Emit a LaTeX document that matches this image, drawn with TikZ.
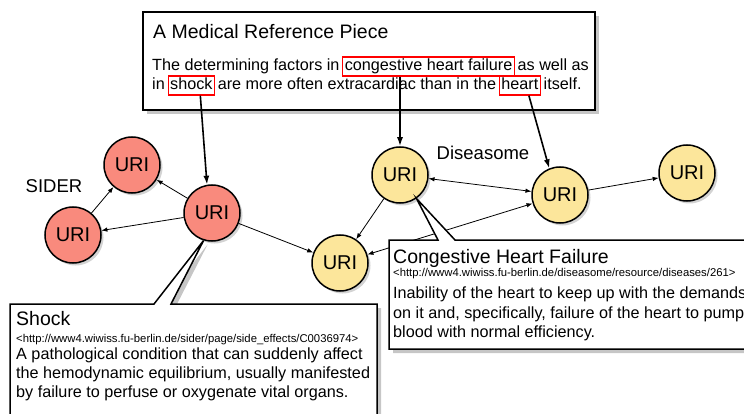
\documentclass[tikz,border=0pt]{standalone}
\usepackage{fontspec}
\setmainfont{Liberation Sans}
\usetikzlibrary{positioning,shadows,arrows.meta}

\definecolor{siderred}{HTML}{F98A7D}
\definecolor{disyellow}{HTML}{FCE69B}

\tikzset{
  uri/.style={circle, draw=black, line width=1.5pt, minimum size=56pt, inner sep=0pt,
    font=\fontsize{20}{20}\selectfont,
    drop shadow={shadow xshift=2.5pt, shadow yshift=-2.5pt, opacity=.35}},
  sider/.style={uri, fill=siderred},
  dis/.style={uri, fill=disyellow},
  edge/.style={-{Latex[length=6pt,width=4.5pt]}, line width=.8pt},
  biedge/.style={{Latex[length=6pt,width=4.5pt]}-{Latex[length=6pt,width=4.5pt]}, line width=.8pt},
  pointer/.style={-{Latex[length=9pt,width=6pt]}, line width=1.6pt},
  panel/.style={draw=black, fill=white, line width=1.5pt,
    drop shadow={shadow xshift=4pt, shadow yshift=-4pt, opacity=.45}},
  title/.style={anchor=base west, inner sep=0pt, font=\fontsize{19.5}{20}\selectfont},
  txt/.style={inner sep=0pt, font=\fontsize{16.2}{19}\selectfont},
  url/.style={anchor=base west, inner sep=0pt, font=\fontsize{11.3}{12}\selectfont},
  hl/.style={txt, draw=red, line width=1.3pt, inner xsep=2pt, inner ysep=2pt,
    text height=12pt, text depth=3pt},
  label/.style={inner sep=0pt, font=\fontsize{18.5}{19}\selectfont}
}

\begin{document}
\begin{tikzpicture}[x=1pt, y=-1pt]

    \useasboundingbox (0,0) rectangle (744,414);
    \clip (0,0) rectangle (744,414);

    % the nodes
    \node[sider] (r1) at (132,165) {URI};
    \node[sider] (r2) at (73,235) {URI};
    \node[sider] (r3) at (212,213) {URI};
    \node[dis] (y1) at (340,263) {URI};
    \node[dis] (y2) at (400,175) {URI};
    \node[dis] (y3) at (560,195) {URI};
    \node[dis] (y4) at (687,173) {URI};

    \node[label] (sider) at (54,186) {SIDER};
    \node[label] (diseasome) at (483,153) {Diseasome};

    \draw[edge] (r3) -- (r1);
    \draw[edge] (r3) -- (r2);
    \draw[edge] (r2) -- (r1);
    \draw[edge] (r3) -- (y1);
    \draw[edge] (y2) -- (y1);
    \draw[biedge] (y2) -- (y3);
    \draw[biedge] (y1) -- (y3);
    \draw[edge] (y3) -- (y4);

    % reference piece
    \draw[panel] (143,12) rectangle (595,110);
    \node[title] (reftitle) at (153,39) {A Medical Reference Piece};
    \node[txt, anchor=base west] (l1a) at (152,71) {The determining factors in};
    \node[hl, base right=2.5pt of l1a] (hlchf) {congestive heart failure};
    \node[txt, base right=2.5pt of hlchf] (l1b) {as well as};
    \node[txt, anchor=base west] (l2a) at (152,90) {in};
    \node[hl, base right=2.5pt of l2a] (hlshock) {shock};
    \node[txt, base right=2.5pt of hlshock] (l2b) {are more often extracardiac than in the};
    \node[hl, base right=2.5pt of l2b] (hlheart) {heart};
    \node[txt, base right=2.5pt of hlheart] (l2c) {itself.};

    \draw[pointer] ([xshift=9pt]hlshock.south) -- (r3.100);
    \draw[pointer] (hlchf.south -| y2.north) -- (y2.north);
    \draw[pointer] ([xshift=9pt]hlheart.south) -- (y3.112);

    % callouts
    \draw[panel, line join=miter] (10,304) -- (154,304) -- (r3.-107) -- (171,304)
        -- (377,304) -- (377,440) -- (10,440) -- cycle;
    \node[title] (shocktitle) at (16,325) {Shock};
    \node[url] (shockurl) at (16,342) {<http://www4.wiwiss.fu-berlin.de/sider/page/side\_effects/C0036974>};
    \node[txt, anchor=base west] (shock1) at (16,359) {A pathological condition that can suddenly affect};
    \node[txt, anchor=base west] (shock2) at (16,378) {the hemodynamic equilibrium, usually manifested};
    \node[txt, anchor=base west] (shock3) at (16,397) {by failure to perfuse or oxygenate vital organs.};

    \draw[panel, line join=miter] (389,240) -- (438,240) -- (y2.-55) -- (455,240)
        -- (780,240) -- (780,349) -- (389,349) -- cycle;
    \node[title] (chftitle) at (393,263) {Congestive Heart Failure};
    \node[url] (chfurl) at (393,276) {<http://www4.wiwiss.fu-berlin.de/diseasome/resource/diseases/261>};
    \node[txt, anchor=base west] (chf1) at (393,298) {Inability of the heart to keep up with the demands};
    \node[txt, anchor=base west] (chf2) at (393,318) {on it and, specifically, failure of the heart to pump};
    \node[txt, anchor=base west] (chf3) at (393,337) {blood with normal efficiency.};

\end{tikzpicture}
\end{document}
